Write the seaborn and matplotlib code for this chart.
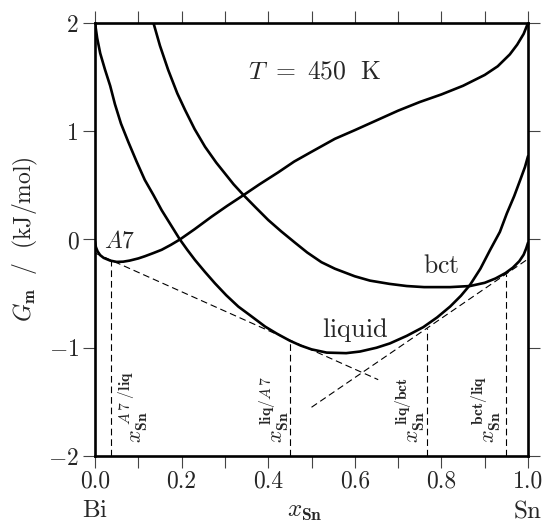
import matplotlib
matplotlib.use("Agg")
import matplotlib.pyplot as plt
import seaborn as sns
import pandas as pd
import numpy as np

# ---------------- data ----------------
a7_x = [0.0, 0.002, 0.006, 0.012, 0.02, 0.035, 0.05, 0.065, 0.08, 0.1, 0.115,
        0.135, 0.154, 0.175, 0.196, 0.23, 0.269, 0.305, 0.343, 0.38, 0.423,
        0.46, 0.5, 0.554, 0.6, 0.65, 0.7, 0.75, 0.8, 0.85, 0.9, 0.93, 0.958,
        0.975, 0.99, 1.0]
a7_G = [-0.02, -0.07, -0.11, -0.145, -0.17, -0.195, -0.207, -0.205, -0.195,
        -0.175, -0.155, -0.125, -0.095, -0.05, 0.0, 0.095, 0.21, 0.31, 0.41,
        0.51, 0.62, 0.72, 0.81, 0.93, 1.01, 1.10, 1.19, 1.27, 1.34, 1.42,
        1.52, 1.60, 1.71, 1.80, 1.90, 2.0]

liq_x = [0.0, 0.005, 0.012, 0.023, 0.035, 0.046, 0.06, 0.077, 0.096, 0.115,
         0.135, 0.154, 0.175, 0.196, 0.213, 0.231, 0.254, 0.277, 0.303, 0.331,
         0.358, 0.393, 0.42, 0.45, 0.475, 0.5, 0.535, 0.58, 0.612, 0.65,
         0.681, 0.72, 0.758, 0.79, 0.82, 0.845, 0.866, 0.89, 0.912, 0.935,
         0.951, 0.968, 0.982, 0.993, 1.0]
liq_G = [2.0, 1.86, 1.72, 1.57, 1.42, 1.25, 1.07, 0.90, 0.72, 0.55, 0.41,
         0.27, 0.135, 0.0, -0.095, -0.19, -0.30, -0.405, -0.515, -0.62,
         -0.70, -0.805, -0.87, -0.935, -0.98, -1.015, -1.045, -1.05, -1.035,
         -1.0, -0.96, -0.89, -0.81, -0.72, -0.62, -0.52, -0.42, -0.27, -0.10,
         0.07, 0.24, 0.40, 0.55, 0.67, 0.77]

bct_x = [0.135, 0.15, 0.169, 0.19, 0.208, 0.23, 0.254, 0.28, 0.30, 0.32, 0.343,
         0.37, 0.40, 0.43, 0.462, 0.49, 0.523, 0.554, 0.6, 0.635, 0.68, 0.72,
         0.76, 0.789, 0.82, 0.866, 0.9, 0.925, 0.948, 0.965, 0.98, 0.99,
         0.996, 1.0]
bct_G = [2.0, 1.79, 1.566, 1.35, 1.196, 1.02, 0.857, 0.71, 0.61, 0.51, 0.41,
         0.30, 0.18, 0.075, -0.03, -0.12, -0.21, -0.27, -0.34, -0.38, -0.41,
         -0.43, -0.44, -0.44, -0.44, -0.43, -0.40, -0.36, -0.31, -0.26, -0.20,
         -0.14, -0.08, -0.03]

# common tangent lines (end points)
tan_a7liq_x = [0.0, 0.654]
tan_a7liq_G = [-0.125, -1.295]
tan_liqbct_x = [0.50, 1.0]
tan_liqbct_G = [-1.55, -0.18]

# tangency compositions and their G values
eq_x = [0.036, 0.450, 0.766, 0.949]
eq_G = [-0.19, -0.93, -0.82, -0.32]
eq_labels = [r"$x_{\mathbf{Sn}}^{\ A\,7\ /\mathbf{liq}}$",
             r"$x_{\mathbf{Sn}}^{\ \mathbf{liq}/A\,7}$",
             r"$x_{\mathbf{Sn}}^{\ \mathbf{liq/bct}}$",
             r"$x_{\mathbf{Sn}}^{\ \mathbf{bct/liq}}$"]
eq_label_x = [0.088, 0.414, 0.727, 0.903]

x_ticks = [0.0, 0.2, 0.4, 0.6, 0.8, 1.0]
y_ticks = [-2, -1, 0, 1, 2]

# ---------------- style ----------------
sns.set_style("ticks")
plt.rcParams.update({
    "font.family": "serif",
    "font.serif": ["cmr10", "DejaVu Serif"],
    "mathtext.fontset": "cm",
    "axes.formatter.use_mathtext": True,
    "axes.unicode_minus": True,
})

fig = plt.figure(figsize=(5.47, 5.26), dpi=100)
ax = fig.add_axes([0.1737, 0.1331, 0.7916, 0.8232])

df = pd.concat([
    pd.DataFrame({"x": a7_x, "G": a7_G, "phase": "A7"}),
    pd.DataFrame({"x": liq_x, "G": liq_G, "phase": "liquid"}),
    pd.DataFrame({"x": bct_x, "G": bct_G, "phase": "bct"}),
], ignore_index=True)

sns.lineplot(data=df, x="x", y="G", units="phase", estimator=None, sort=False,
             color="black", lw=1.9, ax=ax, legend=False, zorder=3,
             solid_joinstyle="round", solid_capstyle="round")

dash_kw = dict(color="black", lw=0.8, dashes=(6, 3.5), zorder=2)
ax.plot(tan_a7liq_x, tan_a7liq_G, **dash_kw)
ax.plot(tan_liqbct_x, tan_liqbct_G, **dash_kw)
for xv, gv in zip(eq_x, eq_G):
    ax.plot([xv, xv], [-2, gv], **dash_kw)

ax.set_xlim(0, 1)
ax.set_ylim(-2, 2)
ax.set_xticks(x_ticks)
ax.set_xticklabels([f"{v:.1f}" for v in x_ticks])
ax.set_xticks(np.arange(0, 1.01, 0.1), minor=True)
ax.set_yticks(y_ticks)
ax.set_yticklabels([r"$-$" + str(abs(v)) if v < 0 else str(v) for v in y_ticks])

for s in ax.spines.values():
    s.set_linewidth(1.9)
    s.set_color("black")

tick_kw = dict(direction="out", length=8.5, width=0.8, color="#444444")
ax.tick_params(axis="both", which="both", top=True, right=True, **tick_kw)
ax.tick_params(axis="x", which="major", labelsize=17, pad=1.5)
ax.tick_params(axis="y", which="major", labelsize=17, pad=3)

ax.set_xlabel("")
ax.set_ylabel(r"$G_{\mathbf{m}}\ \ /\ \ (\mathrm{kJ/mol})$", fontsize=17, labelpad=6)

xt = ax.get_xaxis_transform()
ax.text(0.0, -0.141, r"$\mathrm{Bi}$", transform=xt, ha="center", va="baseline", fontsize=18)
ax.text(1.0, -0.141, r"$\mathrm{Sn}$", transform=xt, ha="center", va="baseline", fontsize=18)
ax.text(0.485, -0.141, r"$x_{\mathbf{Sn}}$", transform=xt, ha="center", va="baseline", fontsize=18)

ax.text(0.353, 1.489, r"$T\ =\ 450\ \ \mathrm{K}$", ha="left", va="baseline", fontsize=18.5)
ax.text(0.02, -0.07, r"$A7$", ha="left", va="baseline", fontsize=17)
ax.text(0.60, -0.90, r"$\mathrm{liquid}$", ha="center", va="baseline", fontsize=19)
ax.text(0.80, -0.31, r"$\mathrm{bct}$", ha="center", va="baseline", fontsize=18.5)

for xl, lab in zip(eq_label_x, eq_labels):
    ax.text(xl, -1.88, lab, rotation=90, ha="center", va="bottom", fontsize=16)

fig.savefig("out.png", dpi=100)
